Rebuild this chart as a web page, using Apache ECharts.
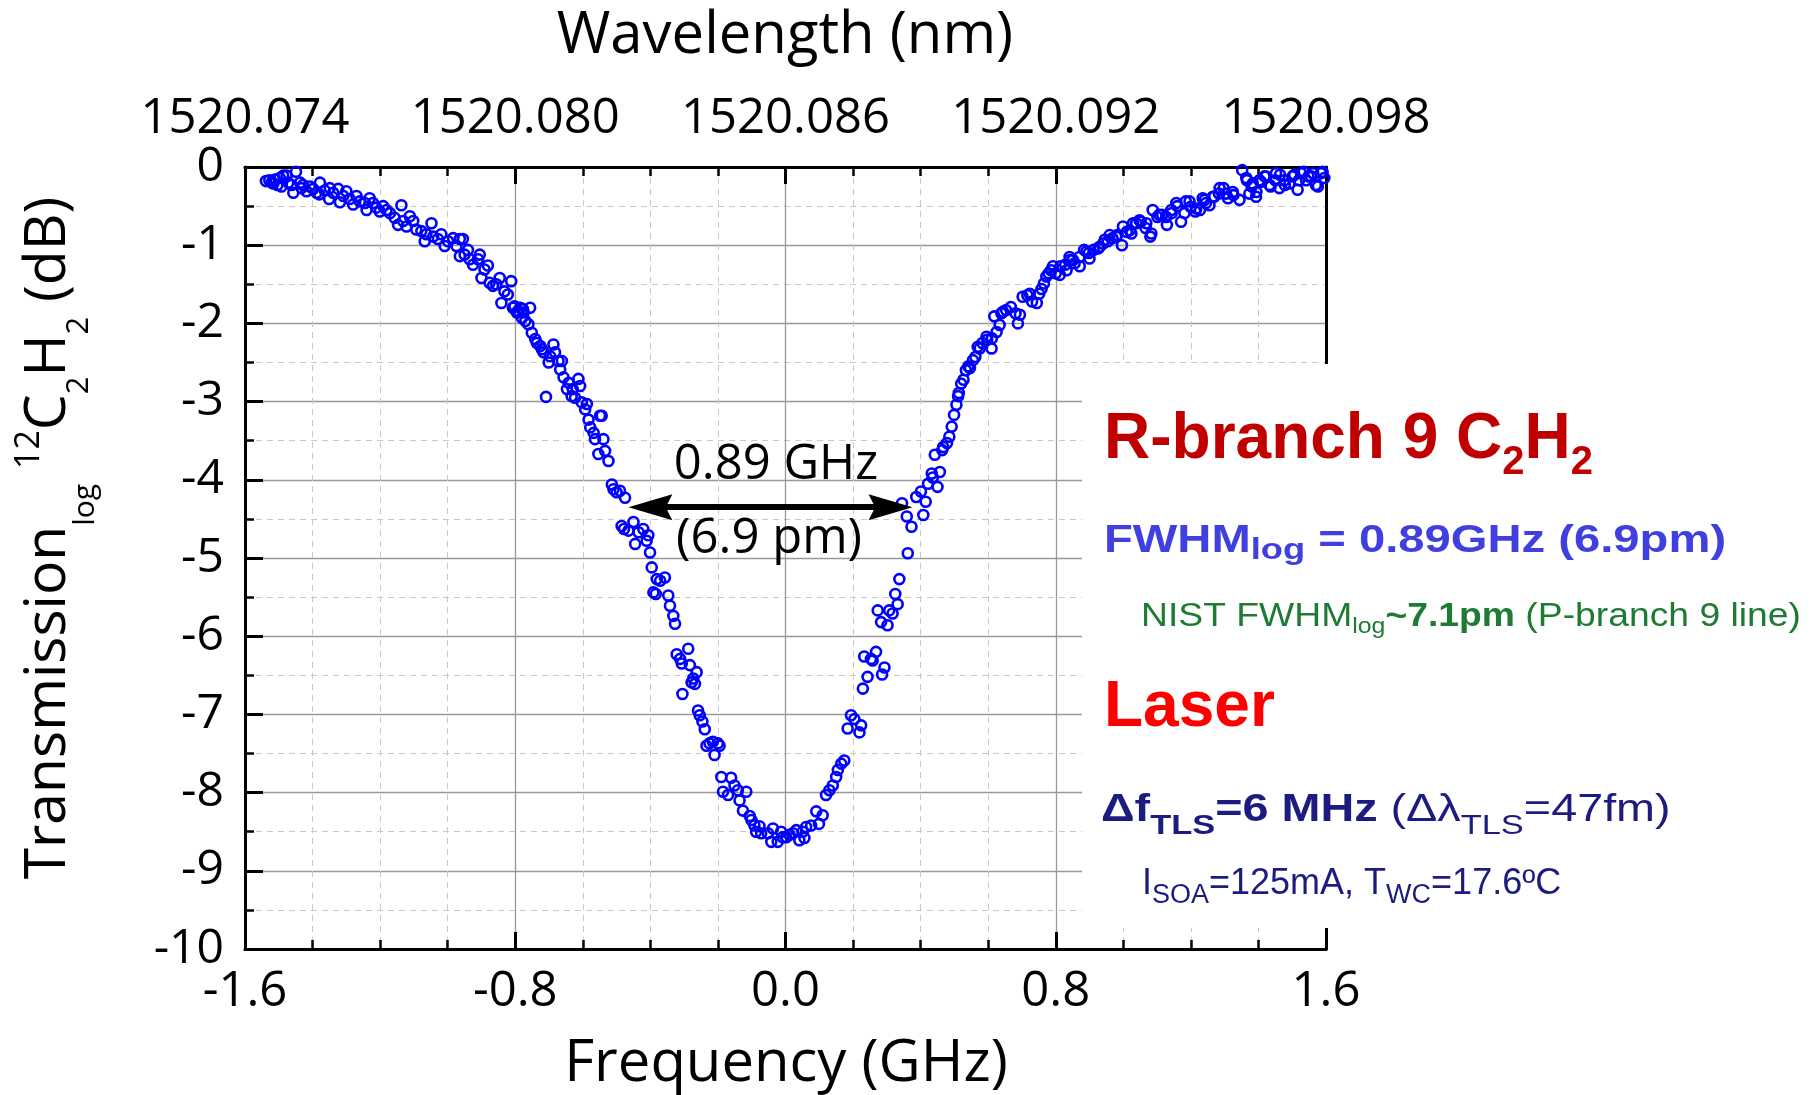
<!DOCTYPE html>
<html>
<head>
<meta charset="utf-8">
<script src="https://cdn.jsdelivr.net/npm/echarts/dist/echarts.min.js"></script>
<style>
html,body{margin:0;padding:0;background:#fff;}
#c{width:1812px;height:1095px;}
</style>
</head>
<body>
<div id="c"></div>
<script>
// ---------- data (frequency offset in GHz, transmission in dB) ----------
const freqTicks = [-1.6, -0.8, 0.0, 0.8, 1.6];
const wavelengthLabels = ['1520.074', '1520.080', '1520.086', '1520.092', '1520.098'];

const leftWing = [
 [-1.538,-0.18],[-1.528,-0.17],[-1.521,-0.20],[-1.516,-0.21],[-1.511,-0.16],[-1.504,-0.23],[-1.497,-0.14],[-1.492,-0.25],
 [-1.487,-0.11],[-1.477,-0.11],[-1.472,-0.20],[-1.462,-0.23],[-1.457,-0.33],[-1.449,-0.06],[-1.437,-0.20],[-1.433,-0.27],
 [-1.428,-0.23],[-1.418,-0.31],[-1.408,-0.25],[-1.398,-0.28],[-1.388,-0.33],[-1.380,-0.35],[-1.378,-0.20],[-1.364,-0.30],
 [-1.351,-0.41],[-1.349,-0.27],[-1.339,-0.33],[-1.324,-0.28],[-1.319,-0.45],[-1.309,-0.37],[-1.300,-0.31],[-1.290,-0.41],
 [-1.280,-0.48],[-1.270,-0.37],[-1.260,-0.44],[-1.245,-0.46],[-1.240,-0.55],[-1.231,-0.40],[-1.221,-0.46],[-1.211,-0.52],
 [-1.201,-0.57],[-1.191,-0.50],[-1.181,-0.55],[-1.171,-0.59],[-1.157,-0.65],[-1.147,-0.74],[-1.137,-0.49],[-1.132,-0.69],
 [-1.122,-0.76],[-1.112,-0.63],[-1.102,-0.69],[-1.093,-0.80],[-1.078,-0.82],[-1.068,-0.95],[-1.063,-0.86],[-1.048,-0.72],
 [-1.043,-0.89],[-1.029,-0.92],[-1.019,-0.86],[-1.009,-1.01],[-0.999,-0.95],[-0.984,-0.91],[-0.974,-1.01],[-0.964,-0.92],
 [-0.955,-0.92],[-0.964,-1.14],[-0.950,-1.12],[-0.940,-1.06],[-0.935,-1.18],[-0.925,-1.25],[-0.910,-1.18],[-0.905,-1.12],
 [-0.900,-1.42],[-0.891,-1.31],[-0.881,-1.26],[-0.876,-1.48],[-0.866,-1.52],[-0.856,-1.50],[-0.846,-1.42],[-0.841,-1.74],
 [-0.832,-1.59],[-0.822,-1.63],[-0.812,-1.46],[-0.807,-1.80],[-0.802,-1.78],[-0.792,-1.84],[-0.777,-1.82]
];

const leftSlope = [
 [-0.795,-1.86],[-0.785,-1.80],[-0.775,-1.86],[-0.780,-1.93],[-0.770,-1.97],[-0.756,-1.80],[-0.761,-2.01],[-0.751,-2.12],
 [-0.741,-2.20],[-0.736,-2.25],[-0.726,-2.29],[-0.721,-2.33],[-0.716,-2.37],[-0.709,-2.94],[-0.701,-2.50],[-0.697,-2.42],
 [-0.687,-2.27],[-0.682,-2.37],[-0.672,-2.48],[-0.667,-2.59],[-0.662,-2.48],[-0.657,-2.69],[-0.647,-2.84],[-0.642,-2.76],
 [-0.633,-2.93],[-0.630,-2.84],[-0.623,-2.95],[-0.613,-2.71],[-0.608,-2.80],[-0.603,-3.01],[-0.593,-3.10],[-0.588,-3.03],
 [-0.583,-3.23],[-0.578,-3.33],[-0.568,-3.40],[-0.564,-3.48],[-0.554,-3.67],[-0.549,-3.18],[-0.544,-3.18],[-0.539,-3.48],
 [-0.534,-3.63],[-0.524,-3.76],[-0.514,-4.06],[-0.509,-4.12],[-0.500,-4.16],[-0.490,-4.14],[-0.475,-4.23],[-0.485,-4.59],
 [-0.478,-4.63],[-0.465,-4.65],[-0.450,-4.54],[-0.445,-4.82],[-0.435,-4.67],[-0.421,-4.63],[-0.411,-4.78],[-0.406,-4.71],
 [-0.401,-4.93],[-0.396,-5.12],[-0.391,-5.44],[-0.384,-5.46],[-0.381,-5.27],[-0.371,-5.29],[-0.357,-5.25],[-0.347,-5.48],
 [-0.342,-5.61],[-0.332,-5.74],[-0.327,-5.84],[-0.322,-6.23],[-0.312,-6.29],[-0.307,-6.35],[-0.305,-6.74],[-0.288,-6.16],
 [-0.283,-6.37],[-0.278,-6.59],[-0.273,-6.54],[-0.268,-6.61],[-0.263,-6.46]
];

const dipBottom = [
 [-0.259,-6.95],[-0.254,-7.01],[-0.246,-7.09],[-0.239,-7.19],[-0.234,-7.40],[-0.225,-7.37],[-0.215,-7.35],[-0.210,-7.52],
 [-0.200,-7.37],[-0.195,-7.40],[-0.190,-7.80],[-0.185,-7.99],[-0.170,-8.03],[-0.161,-7.81],[-0.151,-7.91],[-0.141,-7.97],
 [-0.136,-8.10],[-0.126,-8.23],[-0.116,-7.99],[-0.106,-8.30],[-0.101,-8.35],[-0.092,-8.42],[-0.087,-8.50],[-0.077,-8.43],
 [-0.072,-8.52],[-0.052,-8.52],[-0.042,-8.63],[-0.037,-8.46],[-0.023,-8.63],[-0.013,-8.50],[-0.008,-8.57],[0.002,-8.57],
 [0.012,-8.54],[0.022,-8.52],[0.032,-8.48],[0.041,-8.61],[0.051,-8.50],[0.056,-8.58],[0.061,-8.44],[0.076,-8.42],
 [0.091,-8.24],[0.099,-8.40],[0.110,-8.29],[0.120,-8.03],[0.130,-7.97],[0.140,-7.91],[0.150,-7.80],[0.155,-7.71],
 [0.165,-7.63],[0.174,-7.59],[0.184,-7.18],[0.194,-7.01],[0.204,-7.06],[0.219,-7.23],[0.224,-7.14],[0.229,-6.67],
 [0.233,-6.26],[0.243,-6.52],[0.253,-6.29],[0.258,-6.31],[0.268,-6.20],[0.286,-6.49],[0.293,-6.40]
];

const rightSlope = [
 [0.273,-5.67],[0.283,-5.82],[0.302,-5.86],[0.307,-5.67],[0.317,-5.71],[0.325,-5.46],[0.332,-5.59],[0.337,-5.27],
 [0.362,-4.94],[0.345,-4.30],[0.359,-4.47],[0.373,-4.60],[0.387,-4.22],[0.401,-4.15],[0.408,-4.45],[0.415,-4.28],
 [0.422,-4.05],[0.433,-3.92],[0.436,-3.97],[0.442,-3.68],[0.450,-4.09],[0.457,-3.90],[0.464,-3.62],[0.467,-3.58],
 [0.478,-3.53],[0.485,-3.45],[0.492,-3.32],[0.499,-3.17],[0.506,-3.04],[0.511,-2.93],[0.513,-2.89],[0.520,-2.77],
 [0.527,-2.72],[0.534,-2.60],[0.541,-2.55],[0.546,-2.57],[0.555,-2.47],[0.562,-2.43],[0.569,-2.30],[0.575,-2.32],
 [0.583,-2.25],[0.595,-2.17],[0.597,-2.21],[0.610,-2.32],[0.611,-2.19],[0.618,-1.91],[0.625,-2.11],[0.634,-2.02],
 [0.639,-1.87],[0.644,-1.85],[0.653,-1.83],[0.667,-1.79],[0.681,-1.87],[0.688,-2.00],[0.694,-1.89],[0.702,-1.66],
 [0.716,-1.64],[0.723,-1.62],[0.730,-1.72],[0.744,-1.74],[0.751,-1.62],[0.758,-1.56],[0.765,-1.49],[0.772,-1.40],
 [0.779,-1.36],[0.786,-1.32],[0.792,-1.27],[0.800,-1.36]
];

const rightWing = [
 [0.812,-1.38],[0.814,-1.27],[0.828,-1.25],[0.832,-1.32],[0.841,-1.15],[0.842,-1.19],[0.851,-1.19],[0.856,-1.23],
 [0.870,-1.15],[0.871,-1.27],[0.884,-1.06],[0.891,-1.08],[0.898,-1.10],[0.900,-1.17],[0.912,-1.06],[0.926,-1.04],
 [0.930,-1.02],[0.940,-0.98],[0.945,-0.93],[0.954,-0.95],[0.960,-0.87],[0.968,-0.91],[0.979,-0.89],[0.982,-0.87],
 [0.996,-1.00],[0.999,-0.76],[1.010,-0.83],[1.019,-0.81],[1.024,-0.85],[1.029,-0.72],[1.038,-0.72],[1.048,-0.68],
 [1.052,-0.70],[1.066,-0.78],[1.068,-0.72],[1.080,-0.89],[1.083,-0.85],[1.087,-0.55],[1.101,-0.64],[1.107,-0.61],
 [1.115,-0.61],[1.127,-0.64],[1.129,-0.74],[1.142,-0.55],[1.143,-0.59],[1.157,-0.46],[1.160,-0.50],[1.171,-0.70],
 [1.181,-0.59],[1.185,-0.44],[1.196,-0.44],[1.199,-0.51],[1.213,-0.57],[1.216,-0.53],[1.227,-0.55],[1.235,-0.40],
 [1.241,-0.42],[1.245,-0.46],[1.255,-0.49],[1.265,-0.38],[1.269,-0.38],[1.283,-0.34],[1.285,-0.27],[1.297,-0.27],
 [1.304,-0.34],[1.310,-0.40],[1.324,-0.32],[1.326,-0.36],[1.344,-0.42],[1.352,-0.04],[1.364,-0.14],[1.366,-0.17],
 [1.373,-0.34],[1.380,-0.25],[1.383,-0.21],[1.393,-0.38],[1.394,-0.32],[1.403,-0.17],[1.408,-0.19],[1.418,-0.12],
 [1.422,-0.12],[1.433,-0.23],[1.436,-0.25],[1.450,-0.17],[1.452,-0.08],[1.462,-0.27],[1.464,-0.10],[1.477,-0.17],
 [1.478,-0.23],[1.492,-0.21],[1.501,-0.12],[1.506,-0.10],[1.516,-0.29],[1.520,-0.17],[1.526,-0.08],[1.534,-0.06],
 [1.541,-0.17],[1.548,-0.12],[1.556,-0.12],[1.562,-0.08],[1.570,-0.23],[1.576,-0.25],[1.585,-0.08],[1.590,-0.06],
 [1.595,-0.14]
];

// FWHM arrow annotation (GHz, dB)
const fwhmArrowFrom = -0.400;
const fwhmArrowTo = 0.311;
const fwhmArrowLevel = -4.35;

// ---------- chart ----------
const chart = echarts.init(document.getElementById('c'), null, {renderer: 'canvas'});
const allPoints = [].concat(leftWing, leftSlope, dipBottom, rightSlope, rightWing);

const BLACK = '#000';
const axisLineStyle = {color: BLACK, width: 3};
const tickStyle = {color: BLACK, width: 3};
const minorTickStyle = {color: BLACK, width: 2.5};
const majorGrid = {color: '#999999', width: 1.3};
const minorGrid = {color: '#c8c8c8', width: 1, type: [6, 5]};
const xTickFont = {fontFamily: 'Open Sans', fontSize: 49, color: BLACK};
const yTickFont = {fontFamily: 'Open Sans', fontSize: 48, color: BLACK};

function topLabel(v) {
  const i = freqTicks.findIndex(t => Math.abs(t - v) < 1e-6);
  return i >= 0 ? wavelengthLabels[i] : '';
}

const arrowPath = 'path://M10,0L20,40L10,34L0,40Z';

const option = {
  animation: false,
  backgroundColor: '#fff',
  grid: {left: 245, right: 486, top: 167, bottom: 146, containLabel: false, outerBoundsMode: 'none'},
  xAxis: [
    {
      type: 'value', position: 'bottom', min: -1.6, max: 1.6, interval: 0.8,
      axisLine: {show: true, onZero: false, lineStyle: axisLineStyle},
      axisTick: {show: true, inside: true, length: 17, lineStyle: tickStyle},
      minorTick: {show: true, splitNumber: 4, length: 9, lineStyle: minorTickStyle},
      splitLine: {show: true, lineStyle: majorGrid},
      minorSplitLine: {show: true, lineStyle: minorGrid},
      axisLabel: Object.assign({show: true, margin: 19, showMinLabel: true, showMaxLabel: true,
        formatter: v => v.toFixed(1)}, xTickFont)
    },
    {
      type: 'value', position: 'top', min: -1.6, max: 1.6, interval: 0.8,
      axisLine: {show: true, onZero: false, lineStyle: axisLineStyle},
      axisTick: {show: true, inside: true, length: 17, lineStyle: tickStyle},
      minorTick: {show: true, splitNumber: 4, length: 9, lineStyle: minorTickStyle},
      splitLine: {show: false},
      minorSplitLine: {show: false},
      axisLabel: Object.assign({show: true, margin: 23, showMinLabel: true, showMaxLabel: true,
        formatter: topLabel}, xTickFont)
    }
  ],
  yAxis: [
    {
      type: 'value', position: 'left', min: -10, max: 0, interval: 1,
      axisLine: {show: true, onZero: false, lineStyle: axisLineStyle},
      axisTick: {show: true, inside: true, length: 18, lineStyle: tickStyle},
      minorTick: {show: true, splitNumber: 2, length: 9, lineStyle: minorTickStyle},
      splitLine: {show: true, lineStyle: majorGrid},
      minorSplitLine: {show: true, lineStyle: minorGrid},
      axisLabel: Object.assign({show: true, margin: 21, showMinLabel: true, showMaxLabel: true}, yTickFont)
    },
    {
      type: 'value', position: 'right', min: -10, max: 0, interval: 1,
      axisLine: {show: true, onZero: false, lineStyle: axisLineStyle},
      axisTick: {show: false}, minorTick: {show: false},
      splitLine: {show: false}, minorSplitLine: {show: false},
      axisLabel: {show: false}
    }
  ],
  series: [{
    type: 'scatter', xAxisIndex: 0, yAxisIndex: 0,
    data: allPoints,
    symbol: 'circle', symbolSize: 10,
    itemStyle: {color: 'rgba(255,255,255,0)', borderColor: '#0000ff', borderWidth: 2.6, opacity: 1},
    emphasis: {disabled: true},
    markLine: {
      silent: true, animation: false,
      symbol: [arrowPath, arrowPath], symbolSize: [26, 44],
      lineStyle: {color: BLACK, width: 6, type: 'solid', opacity: 1},
      label: {show: false},
      emphasis: {disabled: true},
      data: [[{coord: [fwhmArrowFrom, fwhmArrowLevel]}, {coord: [fwhmArrowTo, fwhmArrowLevel]}]]
    }
  }],
  graphic: [
    // white panel behind the annotation block
    {type: 'rect', z: 50, shape: {x: 1082, y: 364, width: 730, height: 564}, style: {fill: '#fff'}},
    // axis titles
    {type: 'text', z: 60, x: 785, y: 36, style: {text: 'Wavelength (nm)', fontFamily: 'Open Sans', fontSize: 58, fill: BLACK, align: 'center', verticalAlign: 'middle'}},
    {type: 'text', z: 60, x: 786, y: 1064, style: {text: 'Frequency (GHz)', fontFamily: 'Open Sans', fontSize: 58, fill: BLACK, align: 'center', verticalAlign: 'middle'}},
    {type: 'text', z: 60, x: 100, y: 538, rotation: Math.PI / 2,
      style: {
        text: '{m|Transmission}{l|log}{m| }{p|12}{m|C}{d|2}{m|H}{d|2}{m| (dB)}',
        align: 'center', verticalAlign: 'bottom', fill: BLACK,
        rich: {
          m: {fontFamily: 'Open Sans', fontSize: 57, fill: BLACK, verticalAlign: 'top', padding: [8, 0, 0, 0]},
          l: {fontFamily: 'Open Sans', fontSize: 30, fill: BLACK, verticalAlign: 'top', padding: [58, 0, 0, 0]},
          p: {fontFamily: 'Open Sans', fontSize: 34, fill: BLACK, verticalAlign: 'top', padding: [0, 0, 0, 0]},
          d: {fontFamily: 'Open Sans', fontSize: 31, fill: BLACK, verticalAlign: 'top', padding: [52, 0, 0, 0]}
        }
      }},
    // arrow labels
    {type: 'text', z: 60, x: 776, y: 465, style: {text: '0.89 GHz', fontFamily: 'Open Sans', fontSize: 49, fill: BLACK, align: 'center', verticalAlign: 'middle'}},
    {type: 'text', z: 60, x: 769, y: 539, style: {text: '(6.9 pm)', fontFamily: 'Open Sans', fontSize: 49, fill: BLACK, align: 'center', verticalAlign: 'middle'}},
    // annotation block
    {type: 'text', z: 60, x: 1104, y: 408,
      style: {text: '{a|R-branch 9 C}{s|2}{a|H}{s|2}', align: 'left', verticalAlign: 'top', fill: '#C00000',
        rich: {
          a: {fontFamily: 'Liberation Sans', fontWeight: 'bold', fontSize: 64, lineHeight: 64, fill: '#C00000', verticalAlign: 'top'},
          s: {fontFamily: 'Liberation Sans', fontWeight: 'bold', fontSize: 40, lineHeight: 64, fill: '#C00000', verticalAlign: 'top', padding: [35, 0, 0, 0]}
        }}},
    {type: 'text', z: 60, x: 1104, y: 522, scaleX: 1.21,
      style: {text: '{a|FWHM}{s|log}{a| = 0.89GHz (6.9pm)}', align: 'left', verticalAlign: 'top', fill: '#4040E0',
        rich: {
          a: {fontFamily: 'Liberation Sans', fontWeight: 'bold', fontSize: 39, lineHeight: 39, fill: '#4040E0', verticalAlign: 'top'},
          s: {fontFamily: 'Liberation Sans', fontWeight: 'bold', fontSize: 30, lineHeight: 39, fill: '#4040E0', verticalAlign: 'top', padding: [14, 0, 0, 0]}
        }}},
    {type: 'text', z: 60, x: 1141, y: 600, scaleX: 1.13,
      style: {text: '{a|NIST FWHM}{s|log}{b|~7.1pm}{a| (P-branch 9 line)}', align: 'left', verticalAlign: 'top', fill: '#1E7B34',
        rich: {
          a: {fontFamily: 'Liberation Sans', fontSize: 33, lineHeight: 33, fill: '#1E7B34', verticalAlign: 'top'},
          b: {fontFamily: 'Liberation Sans', fontWeight: 'bold', fontSize: 33, lineHeight: 33, fill: '#1E7B34', verticalAlign: 'top'},
          s: {fontFamily: 'Liberation Sans', fontSize: 22, lineHeight: 33, fill: '#1E7B34', verticalAlign: 'top', padding: [16, 0, 0, 0]}
        }}},
    {type: 'text', z: 60, x: 1104, y: 676,
      style: {text: 'Laser', fontFamily: 'Liberation Sans', fontWeight: 'bold', fontSize: 64, lineHeight: 64, fill: '#FF0000', align: 'left', verticalAlign: 'top'}},
    {type: 'text', z: 60, x: 1101, y: 792, scaleX: 1.23,
      style: {text: '{b|Δf}{bs|TLS}{b|=6 MHz }{a|(Δλ}{s|TLS}{a|=47fm)}', align: 'left', verticalAlign: 'top', fill: '#1C1C80',
        rich: {
          a: {fontFamily: 'Liberation Sans', fontSize: 38, lineHeight: 38, fill: '#1C1C80', verticalAlign: 'top'},
          b: {fontFamily: 'Liberation Sans', fontWeight: 'bold', fontSize: 38, lineHeight: 38, fill: '#1C1C80', verticalAlign: 'top'},
          s: {fontFamily: 'Liberation Sans', fontSize: 28, lineHeight: 38, fill: '#1C1C80', verticalAlign: 'top', padding: [20, 0, 0, 0]},
          bs: {fontFamily: 'Liberation Sans', fontWeight: 'bold', fontSize: 28, lineHeight: 38, fill: '#1C1C80', verticalAlign: 'top', padding: [20, 0, 0, 0]}
        }}},
    {type: 'text', z: 60, x: 1142, y: 866,
      style: {text: '{a|I}{s|SOA}{a|=125mA, T}{s|WC}{a|=17.6ºC}', align: 'left', verticalAlign: 'top', fill: '#1C1C80',
        rich: {
          a: {fontFamily: 'Liberation Sans', fontSize: 36, lineHeight: 36, fill: '#1C1C80', verticalAlign: 'top'},
          s: {fontFamily: 'Liberation Sans', fontSize: 27, lineHeight: 36, fill: '#1C1C80', verticalAlign: 'top', padding: [16, 0, 0, 0]}
        }}}
  ]
};
chart.setOption(option);
</script>
</body>
</html>
